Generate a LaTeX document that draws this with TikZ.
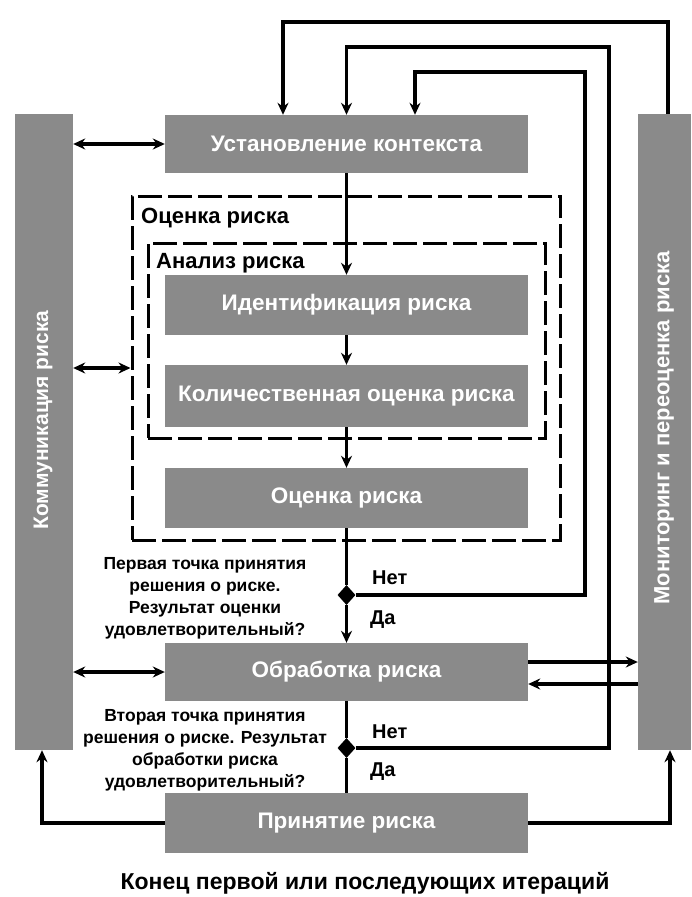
\documentclass[tikz,border=0pt]{standalone}
\usepackage{fontspec}
\setmainfont{Liberation Sans}
\usetikzlibrary{arrows.meta,shapes.geometric}
\definecolor{boxgray}{RGB}{138,138,138}
\begin{document}
\begin{tikzpicture}[x=1pt,y=-1pt,
  gbox/.style={draw=none,fill=boxgray,text=white,font=\bfseries\fontsize{22.5}{26}\selectfont,minimum width=363pt,minimum height=58pt,inner sep=0pt},
  bar/.style={fill=boxgray,inner sep=0pt},
  barlabel/.style={text=white,font=\bfseries\fontsize{21}{25}\selectfont,rotate=90,inner sep=0pt},
  conn/.style={line width=3.5pt},
  arr/.style={conn,-{Stealth[length=12pt,width=11pt]}},
  darr/.style={conn,{Stealth[length=12pt,width=11pt]}-{Stealth[length=12pt,width=11pt]}},
  dframe/.style={draw,line width=3pt,dash pattern=on 24pt off 6pt,inner sep=0pt},
  frlabel/.style={font=\bfseries\fontsize{22}{26}\selectfont,anchor=west,inner sep=0pt},
  yn/.style={font=\bfseries\fontsize{20}{24}\selectfont,anchor=west,inner sep=0pt},
  qtext/.style={font=\bfseries\fontsize{17.5}{22}\selectfont,align=center,inner sep=0pt},
  dec/.style={diamond,fill=black,minimum width=18pt,minimum height=20pt,inner sep=0pt}
]
\useasboundingbox[fill=white] (0,0) rectangle (691,897);

% side bars
\node[bar,minimum width=58pt,minimum height=636pt] (comm) at (44,432) {};
\node[bar,minimum width=53pt,minimum height=636pt] (mon) at (664.5,432) {};
\node[barlabel] (commt) at (43,420) {Коммуникация риска};
\node[barlabel,font=\bfseries\fontsize{22}{26}\selectfont] (mont) at (664,428) {Мониторинг и переоценка риска};

% frames
\node[dframe,minimum width=428pt,minimum height=344pt] (outer) at (346,368) {};
\node[dframe,minimum width=397pt,minimum height=195pt] (inner) at (346.5,340.5) {};
\node[frlabel] (outerl) at (141,218) {Оценка риска};
\node[frlabel] (innerl) at (156,263) {Анализ риска};

% main boxes
\node[gbox] (ctx) at (346.5,144) {Установление контекста};
\node[gbox,minimum height=60pt] (ident) at (346.5,305) {Идентификация риска};
\node[gbox,minimum height=62pt] (quant) at (346.5,396) {Количественная оценка риска};
\node[gbox,minimum height=60pt] (evalb) at (346.5,498) {Оценка риска};
\node[gbox] (treat) at (346.5,672) {Обработка риска};
\node[gbox,minimum height=60pt] (accept) at (346.5,823) {Принятие риска};

% decisions
\node[dec] (d1) at (346.5,595) {};
\node[dec] (d2) at (346.5,748) {};
\node[qtext] (q1) at (205,598) {Первая точка принятия\\решения о риске.\\Результат оценки\\удовлетворительный?};
\node[qtext] (q2) at (205,750) {Вторая точка принятия\\решения о риске. Результат\\обработки риска\\удовлетворительный?};
\node[yn] (n1) at (372,578) {Нет};
\node[yn] (y1) at (370,620) {Да};
\node[yn] (n2) at (372,732) {Нет};
\node[yn] (y2) at (370,772) {Да};

\node[font=\bfseries\fontsize{23}{27}\selectfont,inner sep=0pt] (endt) at (365,883) {Конец первой или последующих итераций};

% main flow
\draw[arr] (ctx.south) -- (ident.north);
\draw[arr] (ident.south) -- (quant.north);
\draw[arr] (quant.south) -- (evalb.north);
\draw[conn] (evalb.south) -- (d1.north);
\draw[arr] (d1.south) -- (treat.north);
\draw[conn] (treat.south) -- (d2.north);
\draw[conn] (d2.south) -- (accept.north);

% feedback loops
\coordinate (m1) at (668,22);
\coordinate (r2) at (609,47);
\coordinate (r3) at (585,72);
\draw[arr] (m1 |- mon.north) -- (m1) -| ([xshift=-63.5pt]ctx.north);
\draw[arr] (d2.east) -| (r2) -| (ctx.north);
\draw[arr] (d1.east) -| (r3) -| ([xshift=68.5pt]ctx.north);

% communication arrows
\draw[darr] (comm.east |- ctx.west) -- (ctx.west);
\draw[darr] (comm.east |- outer.west) -- (outer.west);
\draw[darr] (comm.east |- treat.west) -- (treat.west);

% treatment <-> monitoring
\draw[arr] ([yshift=10pt]treat.east) -- ([yshift=10pt]treat.east -| mon.west);
\draw[arr] ([yshift=-12pt]treat.east -| mon.west) -- ([yshift=-12pt]treat.east);

% acceptance to bars
\draw[arr] (accept.west) -| ([xshift=-2pt]comm.south);
\draw[arr] (accept.east) -| ([xshift=5.5pt]mon.south);
\end{tikzpicture}
\end{document}
